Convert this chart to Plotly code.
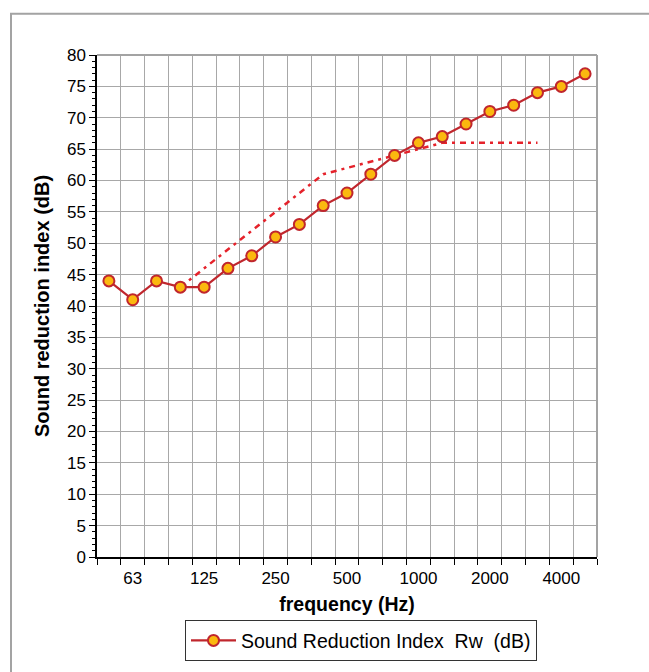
import plotly.graph_objects as go

freqs = ["50", "63", "80", "100", "125", "160", "200", "250", "315", "400", "500",
         "630", "800", "1000", "1250", "1600", "2000", "2500", "3150", "4000", "5000"]
sri = [44, 41, 44, 43, 43, 46, 48, 51, 53, 56, 58, 61, 64, 66, 67, 69, 71, 72, 74, 75, 77]
ref_freqs = ["100", "125", "160", "200", "250", "315", "400", "500", "630", "800",
             "1000", "1250", "1600", "2000", "2500", "3150"]
ref_curve = [43, 46, 49, 52, 55, 58, 61, 62, 63, 64, 65, 66, 66, 66, 66, 66]
labeled = ["63", "125", "250", "500", "1000", "2000", "4000"]

idx = {f: i for i, f in enumerate(freqs)}
x_main = [idx[f] for f in freqs]
x_ref = [idx[f] for f in ref_freqs]

fig = go.Figure()
fig.add_trace(go.Scatter(
    x=x_ref, y=ref_curve, mode="lines", showlegend=False,
    line=dict(color="#e5222b", width=2.5, dash="6px,5px,3px,5px"),
    hoverinfo="skip"))
fig.add_trace(go.Scatter(
    x=x_main, y=sri, mode="lines+markers",
    name="Sound Reduction Index\u00a0\u00a0Rw\u00a0\u00a0(dB)",
    line=dict(color="#c0262d", width=2.2),
    marker=dict(size=11, color="#fbb80f", line=dict(color="#c0262d", width=2))))

fig.update_layout(
    width=649, height=672,
    margin=dict(l=97, r=52, t=55, b=115, autoexpand=False),
    paper_bgcolor="white", plot_bgcolor="white",
    font=dict(family="Liberation Sans, Arial, sans-serif", color="black", size=17),
    showlegend=True,
    legend=dict(x=0.176, y=-0.126, xanchor="left", yanchor="top",
                bordercolor="#333333", borderwidth=1, bgcolor="white",
                font=dict(size=19.5), itemwidth=45,
                tracegroupgap=0),
    shapes=[dict(type="rect", xref="paper", yref="paper",
                 x0=-0.172, x1=1.3, y0=-0.4, y1=1.082,
                 line=dict(color="#a3a3a3", width=2), layer="below")],
)

fig.update_xaxes(
    range=[-0.5, len(freqs) - 0.5],
    tickvals=[idx[f] for f in labeled], ticktext=labeled,
    ticks="", showgrid=False, zeroline=False, automargin=False,
    showline=True, linecolor="black", linewidth=1.5, mirror=False,
    tickfont=dict(size=17), ticklabelstandoff=5,
    minor=dict(tick0=-0.5, dtick=1, ticks="outside", ticklen=6, tickcolor="black",
               showgrid=True, gridcolor="#a8a8a8", gridwidth=1),
    title=dict(text="<b>frequency (Hz)</b>", font=dict(size=19.5), standoff=10),
)
fig.update_yaxes(
    range=[0, 80], dtick=5, tick0=0, automargin=False,
    ticks="outside", ticklen=6, tickcolor="black",
    showgrid=True, gridcolor="#a8a8a8", gridwidth=1, zeroline=False,
    showline=True, linecolor="black", linewidth=1.5,
    tickfont=dict(size=17),
    minor=dict(dtick=1, ticks="outside", ticklen=3, tickcolor="black", showgrid=False),
    title=dict(text="<b>Sound reduction index (dB)</b>", font=dict(size=20), standoff=12),
)
fig.add_shape(type="line", xref="paper", yref="paper", x0=0, x1=1, y0=1, y1=1,
              line=dict(color="#a3a3a3", width=2))
fig.add_shape(type="line", xref="paper", yref="paper", x0=1, x1=1, y0=0, y1=1,
              line=dict(color="#a3a3a3", width=2))

fig.write_html("out.html")
